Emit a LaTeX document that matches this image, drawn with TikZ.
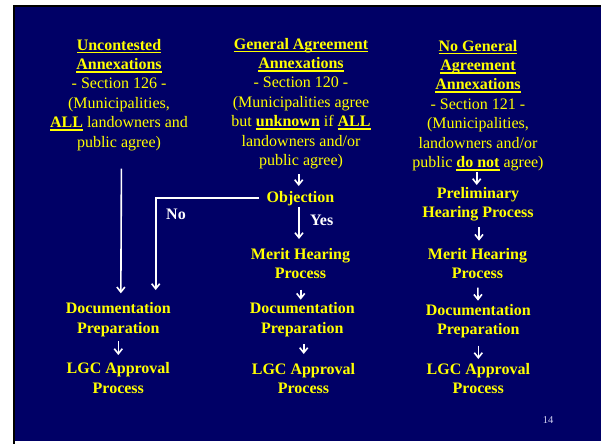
\documentclass[tikz,border=0pt]{standalone}
\usepackage{fontspec}
\setmainfont{Liberation Serif}
\usetikzlibrary{arrows.meta,positioning}
\definecolor{slidenavy}{RGB}{0,0,102}
\definecolor{slideyellow}{RGB}{255,255,0}
\definecolor{pagenum}{RGB}{210,210,240}
\newsavebox\hdrbox
\newcommand{\hdr}[1]{\sbox\hdrbox{\textbf{#1}}%
  \rlap{\rule[-3.3pt]{\wd\hdrbox}{1.8pt}}\usebox\hdrbox}
\tikzset{%
  >={Straight Barb[length=5pt,width=8pt]},
  % Specifications for style of nodes:
       base/.style = {inner sep=0pt, outer sep=0pt, align=center,
                      text=slideyellow, font=\fontsize{16}{19.4}\selectfont},
     header/.style = {base, anchor=north},
      stage/.style = {base, anchor=north,
                      font=\fontsize{16}{19.4}\selectfont\bfseries},
     answer/.style = {base, text=white,
                      font=\fontsize{16}{19.4}\selectfont\bfseries},
       flow/.style = {->, draw=white, line width=1.6pt},
}

\begin{document}
\begin{tikzpicture}[x=1pt, y=-1pt]
  % Slide frame
  \useasboundingbox (0,0) rectangle (601,444);
  \fill[white] (0,0) rectangle (601,444);
  \fill[black] (13,5) rectangle (601,7);
  \fill[black] (13,5) rectangle (15,444);
  \fill[slidenavy] (15,7) rectangle (601,440.5);
  % Specification of nodes (position, etc.)
  \node (hdrA) [header] at (119,39) {\hdr{Uncontested}\\ \hdr{Annexations}\\
    - Section 126 -\\ (Municipalities,\\ \hdr{ALL} landowners and\\ public agree)};
  \node (hdrB) [header] at (301,38) {\hdr{General Agreement}\\ \hdr{Annexations}\\
    - Section 120 -\\ (Municipalities agree\\ but \hdr{unknown} if \hdr{ALL}\\
    landowners and/or\\ public agree)};
  \node (hdrC) [header] at (478,40) {\hdr{No General}\\ \hdr{Agreement}\\
    \hdr{Annexations}\\ - Section 121 -\\ (Municipalities,\\ landowners and/or\\
    public \hdr{do not} agree)};
  \node (obj)    [stage] at (300.5,191.5) {Objection};
  \node (meritB) [stage] at (300.5,248.3) {Merit Hearing\\ Process};
  \node (docB)   [stage] at (302.3,302.7) {Documentation\\ Preparation};
  \node (lgcB)   [stage] at (303.5,363)   {LGC Approval\\ Process};
  \node (prelim) [stage] at (478,187.3)   {Preliminary\\ Hearing Process};
  \node (meritC) [stage] at (477.5,248.3) {Merit Hearing\\ Process};
  \node (docC)   [stage] at (478.3,304)   {Documentation\\ Preparation};
  \node (lgcC)   [stage] at (478.3,363.3) {LGC Approval\\ Process};
  \node (docA)   [stage] at (118.3,302.7) {Documentation\\ Preparation};
  \node (lgcA)   [stage] at (118.3,362.7) {LGC Approval\\ Process};
  \node (no)  [answer] at (176,214)   {No};
  \node (yes) [answer] at (321.7,220) {Yes};
  \node (pg) [text=pagenum, font=\fontsize{10.5}{12}\selectfont] at (548,420) {14};
  % Specification of lines between nodes specified above
  \draw[flow, shorten <=18pt, shorten >=9.4pt]
    ([xshift=2.5pt]hdrA.south) -- ([xshift=2.5pt]docA.north);
  \draw[flow, shorten <=7.4pt, shorten >=12.7pt]
    ([yshift=1pt]obj.west) -| ([xshift=37.4pt]docA.north);
  \draw[flow, shorten <=4.5pt, shorten >=7.7pt] (docA) -- (lgcA);
  \draw[flow, shorten <=5.5pt, shorten >=5.5pt]
    ([xshift=-2.3pt]hdrB.south) -- ([xshift=-1.8pt]obj.north);
  \draw[flow, shorten <=1pt, shorten >=9.3pt]
    ([xshift=-1.5pt]obj.south) -- ([xshift=-1.5pt]meritB.north);
  \draw[flow, shorten <=10.6pt, shorten >=3pt]
    ([xshift=0.2pt]meritB.south) -- ([xshift=0.2pt]meritB.south |- docB.north);
  \draw[flow, shorten <=7.4pt, shorten >=9pt]
    ([xshift=1.4pt]docB.south) -- ([xshift=1.4pt]docB.south |- lgcB.north);
  \draw[flow, shorten <=1.5pt, shorten >=2.3pt]
    ([xshift=-1.3pt]hdrC.south) -- ([xshift=-1.3pt]hdrC.south |- prelim.north);
  \draw[flow, shorten <=5.5pt, shorten >=7.6pt]
    ([xshift=1pt]prelim.south) -- ([xshift=1pt]prelim.south |- meritC.north);
  \draw[flow, shorten <=8.6pt, shorten >=3.3pt] (meritC) -- (docC);
  \draw[flow, shorten <=7.8pt, shorten >=4.3pt] (docC) -- (lgcC);
\end{tikzpicture}
\end{document}
